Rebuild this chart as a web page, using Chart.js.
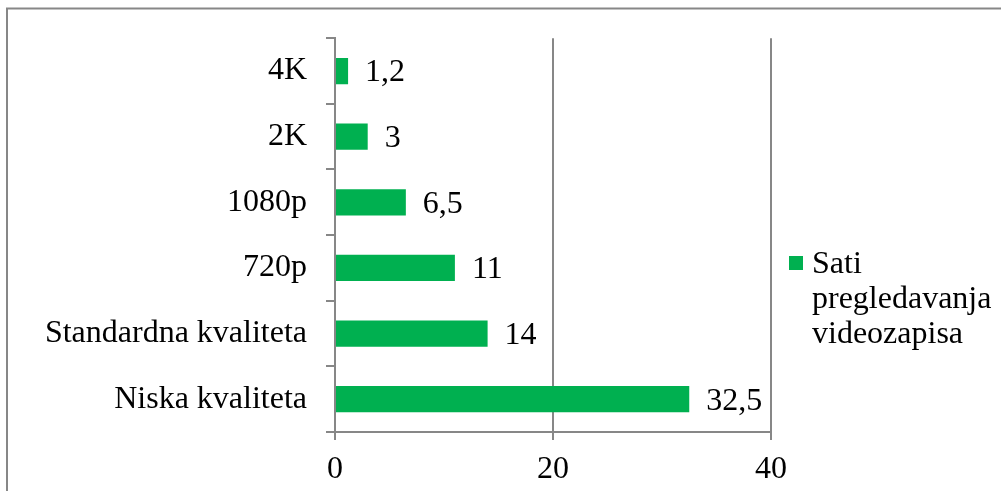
<!DOCTYPE html>
<html>
<head>
<meta charset="utf-8">
<script src="https://cdn.jsdelivr.net/npm/chart.js@4"></script>
<style>
  html, body { margin: 0; padding: 0; background: #fff; }
  #wrap { width: 1001px; height: 491px; }
</style>
</head>
<body>
<div id="wrap"><canvas id="chartSati" width="1001" height="491"></canvas></div>
<script>
// Podaci
const kategorije = ["4K", "2K", "1080p", "720p", "Standardna kvaliteta", "Niska kvaliteta"];
const satiVrijednosti = [1.2, 3, 6.5, 11, 14, 32.5];
const nazivSerije = "Sati pregledavanja videozapisa";
const xOsMin = 0, xOsMax = 40, xOsKorak = 20;

const zelena = "#00B050";
const siva = "#878787";
const fontSerif = "'Liberation Serif', 'Times New Roman', serif";

// Oznake vrijednosti desno od stupaca
const oznakePlugin = {
    id: "oznake",
    afterDatasetsDraw(chart) {
        const ctx = chart.ctx;
        const meta = chart.getDatasetMeta(0);
        ctx.save();
        ctx.font = "32px " + fontSerif;
        ctx.fillStyle = "#000";
        ctx.textAlign = "left";
        ctx.textBaseline = "middle";
        meta.data.forEach((bar, i) => {
            const txt = String(chart.data.datasets[0].data[i]).replace(".", ",");
            ctx.fillText(txt, bar.x + 17, bar.y + 2);
        });
        ctx.restore();
    }
};

// Legenda (ručno, jer tekst ide u više redova) + okvir
const legendaPlugin = {
    id: "legenda",
    afterDraw(chart) {
        const ctx = chart.ctx;
        const area = chart.chartArea;
        ctx.save();
        const bx = area.right + 18, by = 256;
        ctx.fillStyle = zelena;
        ctx.fillRect(bx, by, 14, 14);
        ctx.font = "32px " + fontSerif;
        ctx.fillStyle = "#000";
        ctx.textAlign = "left";
        ctx.textBaseline = "alphabetic";
        nazivSerije.split(" ").forEach((red, i) => {
            ctx.fillText(red, bx + 23, 273 + i * 35);
        });
        // okvir grafikona
        ctx.strokeStyle = siva;
        ctx.lineWidth = 2;
        ctx.beginPath();
        ctx.moveTo(7, chart.height);
        ctx.lineTo(7, 8.5);
        ctx.lineTo(chart.width, 8.5);
        ctx.stroke();
        ctx.restore();
    }
};

new Chart(document.getElementById("chartSati"), {
    type: "bar",
    data: {
        labels: kategorije,
        datasets: [{
            label: nazivSerije,
            data: satiVrijednosti,
            backgroundColor: zelena,
            barPercentage: 0.4,
            categoryPercentage: 1
        }]
    },
    options: {
        indexAxis: "y",
        responsive: false,
        animation: false,
        layout: { padding: { left: 0, top: 37, right: 230, bottom: 0 } },
        plugins: {
            legend: { display: false },
            tooltip: { enabled: false }
        },
        scales: {
            x: {
                min: xOsMin,
                max: xOsMax,
                ticks: {
                    stepSize: xOsKorak,
                    color: "#000",
                    padding: 10,
                    font: { family: fontSerif, size: 32 }
                },
                grid: { color: siva, lineWidth: 2, tickLength: 8 },
                border: { display: true, color: siva, width: 2 },
                afterFit(scale) { scale.height = 59; }
            },
            y: {
                ticks: {
                    color: "#000",
                    padding: 19,
                    font: { family: fontSerif, size: 32 }
                },
                grid: { drawOnChartArea: false, color: siva, lineWidth: 2, tickLength: 9, offset: true },
                border: { display: true, color: siva, width: 2 },
                afterFit(scale) { scale.width = 335; }
            }
        }
    },
    plugins: [oznakePlugin, legendaPlugin]
});
</script>
</body>
</html>
